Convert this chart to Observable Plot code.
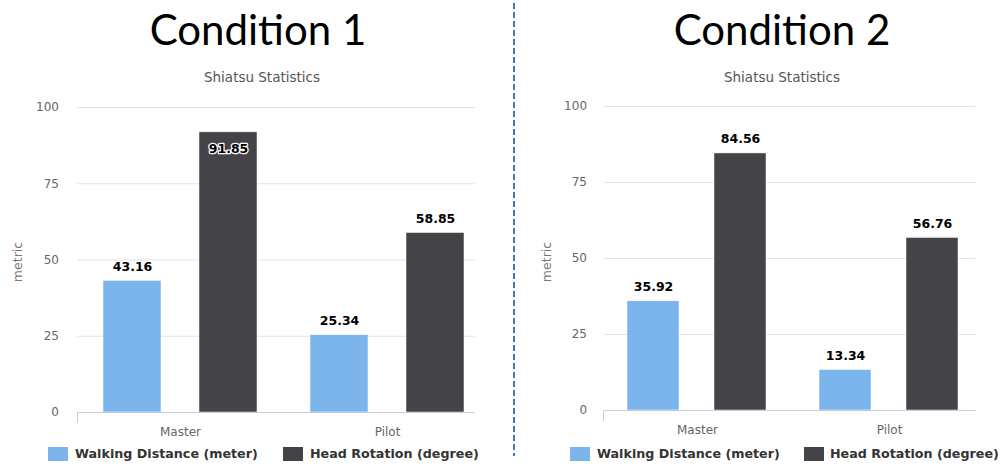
<!DOCTYPE html>
<html><head><meta charset="utf-8">
<script src="https://cdn.jsdelivr.net/npm/d3@7"></script>
<script src="https://cdn.jsdelivr.net/npm/@observablehq/plot@0.6"></script>
<style>
body{margin:0;background:#fff;width:1003px;height:466px;position:relative;overflow:hidden;font-family:"DejaVu Sans",Verdana,sans-serif}
.abs{position:absolute;white-space:nowrap}
.title{font-family:Lato,"Open Sans",sans-serif;font-size:42px;line-height:42px;color:#000;transform:translateX(-50%)}
.sub{font-size:13.5px;line-height:16px;color:#555;transform:translateX(-50%)}
.ylab{font-size:12.5px;color:#777;transform:translate(-50%,-50%) rotate(-90deg)}
.sw{width:20px;height:14px}
.lt{font-size:12.7px;font-weight:bold;color:#333;line-height:14px}
svg.plot{position:absolute}
</style></head>
<body>
<div id="root"></div>
<script>
const categories = ["Master", "Pilot"];
const series = ["Walking Distance (meter)", "Head Rotation (degree)"];
const cond1Walking = [43.16, 25.34];
const cond1Head = [91.85, 58.85];
const cond2Walking = [35.92, 13.34];
const cond2Head = [84.56, 56.76];
const yTicks = [0, 25, 50, 75, 100];
const seriesColors = ["#7cb5ec", "#434348"];
const panelTitles = ["Condition 1", "Condition 2"];
const subtitle = "Shiatsu Statistics";
const yTitle = "metric";

function rowsFor(walking, head) {
  const rows = [];
  categories.forEach((c, i) => {
    rows.push({category: c, series: series[0], value: walking[i]});
    rows.push({category: c, series: series[1], value: head[i]});
  });
  return rows;
}

// horizontal rules that span the whole frame (across the gaps between category facets)
function spanningRules(values, o, style) {
  const fx = d3.scaleBand(categories, [o.ml, o.width - o.mr])
    .paddingInner(o.fpi).paddingOuter(o.fpo).align(o.fal);
  const bw = fx.bandwidth();
  const n = categories.length;
  return categories.map((c, i) => {
    const left = i === 0 ? o.ml : (fx(categories[i - 1]) + bw + fx(c)) / 2;
    const right = i === n - 1 ? o.width - o.mr : (fx(c) + bw + fx(categories[i + 1])) / 2;
    return Plot.ruleY(values.map(v => ({v, c})), {
      fx: "c", y: "v",
      insetLeft: -(fx(c) - left), insetRight: -(right - fx(c) - bw), ...style
    });
  });
}

function chart(rows, o) {
  const fmt = d => d.value.toFixed(2);
  const fxScale = d3.scaleBand(categories, [o.ml, o.width - o.mr])
    .paddingInner(o.fpi).paddingOuter(o.fpo).align(o.fal);
  const labelStyle = {fx: "category", x: "series", y: "value", text: fmt, fontWeight: "bold", fontSize: 12.5,
    fill: "#000", stroke: "#fff", strokeWidth: 2.5, paintOrder: "stroke", fontFamily: "DejaVu Sans, sans-serif"};
  const p = Plot.plot({
    width: o.width, height: 350,
    marginLeft: o.ml, marginRight: o.mr, marginTop: o.mt, marginBottom: o.mb,
    style: {fontFamily: "DejaVu Sans, sans-serif", fontSize: "12px", color: "#666", background: "transparent", overflow: "visible"},
    fx: {domain: categories, paddingInner: o.fpi, paddingOuter: o.fpo, align: o.fal, label: null, axis: "bottom", tickSize: 0, tickPadding: 15},
    x: {domain: series, paddingInner: o.pi, paddingOuter: o.po, axis: null},
    y: {domain: [0, 100], ticks: yTicks, label: null, tickSize: 0, tickPadding: o.gap + (fxScale(categories[0]) - o.ml)},
    color: {domain: series, range: seriesColors},
    marks: [
      ...spanningRules(yTicks.filter(t => t > 0), o, {stroke: "#e2e2e2", strokeWidth: 1}),
      Plot.barY(rows, {fx: "category", x: "series", y: "value", fill: "series", stroke: "#fff", strokeWidth: 0.5}),
      ...spanningRules([0], o, {stroke: "#c0d0e0", strokeWidth: 1}),
      Plot.text(rows.filter(d => d.value <= 90), {...labelStyle, dy: -14}),
      Plot.text(rows.filter(d => d.value > 90), {...labelStyle, dy: 17})
    ]
  });
  p.classList.add("plot");
  p.style.left = o.left + "px";
  p.style.top = o.top + "px";
  // left axis tick mark (category boundary)
  const y0 = p.scale("y").apply(0);
  d3.select(p).append("line").attr("x1", o.ml + 0.5).attr("x2", o.ml + 0.5)
    .attr("y1", y0).attr("y2", y0 + 11).attr("stroke", "#c0d0e0");
  return p;
}

const root = document.getElementById("root");
root.appendChild(chart(rowsFor(cond1Walking, cond1Head),
  {left: 0, top: 90, width: 490, ml: 77, mr: 15, mt: 17, mb: 28,
   fpi: 0.1807, fpo: 0.0494, fal: 0.854, pi: 0.392, po: 0.0723, gap: 19}));
root.appendChild(chart(rowsFor(cond2Walking, cond2Head),
  {left: 515, top: 88, width: 488, ml: 88, mr: 28, mt: 18, mb: 28,
   fpi: 0.1667, fpo: 0.052, fal: 0.675, pi: 0.3977, po: 0.108, gap: 17}));

function addDiv(cls, text, css) {
  const d = document.createElement("div");
  d.className = "abs " + cls;
  if (text) d.textContent = text;
  Object.assign(d.style, css);
  document.body.appendChild(d);
  return d;
}
addDiv("title", panelTitles[0], {left: "258px", top: "8px"});
addDiv("title", panelTitles[1], {left: "782px", top: "8px"});
addDiv("sub", subtitle, {left: "262px", top: "69px"});
addDiv("sub", subtitle, {left: "782px", top: "69px"});
addDiv("ylab", yTitle, {left: "17px", top: "262px"});
addDiv("ylab", yTitle, {left: "546px", top: "262px"});

const legends = [
  {sw: [48, 283], tx: [75, 310]},
  {sw: [570, 804], tx: [597, 830]}
];
legends.forEach(l => {
  series.forEach((s, i) => {
    addDiv("sw", "", {left: l.sw[i] + "px", top: "447px", background: seriesColors[i]});
    addDiv("lt", s, {left: l.tx[i] + "px", top: "447px"});
  });
});

// dashed divider
const sv = d3.select(document.body).append("svg").attr("width", 6).attr("height", 466)
  .style("position", "absolute").style("left", "511px").style("top", "0px");
sv.append("line").attr("x1", 3).attr("x2", 3).attr("y1", 3).attr("y2", 456)
  .attr("stroke", "#4472c4").attr("stroke-width", 2).attr("stroke-dasharray", "6 3");
</script>
</body></html>
